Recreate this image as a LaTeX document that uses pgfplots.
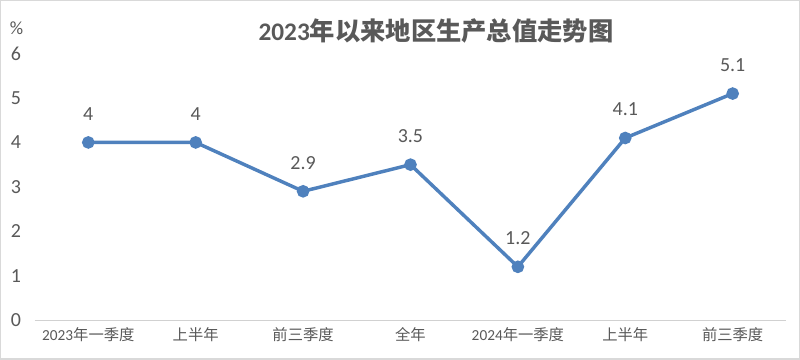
\documentclass[border=0pt]{standalone}
\usepackage{pgfplots}
\pgfplotsset{compat=1.18}
\usepackage{fontspec}
\setmainfont{Carlito}
\newfontfamily\cjk{Noto Sans CJK SC}
\definecolor{lineblue}{RGB}{79,129,189}
\definecolor{txt}{RGB}{89,89,89}
\begin{document}
\begin{tikzpicture}
\begin{axis}[
  scale only axis,
  width=564.75pt, height=200.25pt,
  xmin=-0.5, xmax=6.5, ymin=0, ymax=6,
  axis x line*=bottom,
  axis y line=none,
  x axis line style={draw=black!18, line width=0.9pt},
  xtick={0,...,6},
  xticklabels={{2023\cjk 年一季度},{\cjk 上半年},{\cjk 前三季度},{\cjk 全年},{2024\cjk 年一季度},{\cjk 上半年},{\cjk 前三季度}},
  xticklabel style={font=\fontsize{11.5pt}{12pt}\selectfont, text=txt, yshift=-2pt},
  major tick length=0pt,
  clip=false,
  nodes near coords,
  every node near coord/.append style={font=\fontsize{15pt}{16pt}\selectfont, text=txt, anchor=south, yshift=12pt},
  point meta=explicit symbolic,
]
\addplot[color=lineblue, line width=2.6pt, mark=*, mark size=3.4pt, mark options={fill=lineblue, draw=lineblue}]
  table[meta=lab] {
x y lab
0 4 4
1 4 4
2 2.9 2.9
3 3.5 3.5
4 1.2 1.2
5 4.1 4.1
6 5.1 5.1
};
\pgfplotsinvokeforeach{0,...,6}{
  \node[font=\fontsize{15pt}{16pt}\selectfont, text=txt] at (axis cs:-0.5,#1) [xshift=-14pt] {#1};
}
\end{axis}
\node[font=\fontsize{14pt}{15pt}\selectfont, text=txt] at (-13.5pt,219pt) {\%};
\node[text=txt] at (301.5pt,217.5pt) {{\fontsize{19pt}{20pt}\selectfont\bfseries 2023}{\cjk\bfseries\fontsize{19pt}{20pt}\selectfont 年以来地区生产总值走势图}};
\draw[black!15, line width=1pt] (-25.5pt,-29.25pt) rectangle (574.5pt,240pt);
\end{tikzpicture}
\end{document}
